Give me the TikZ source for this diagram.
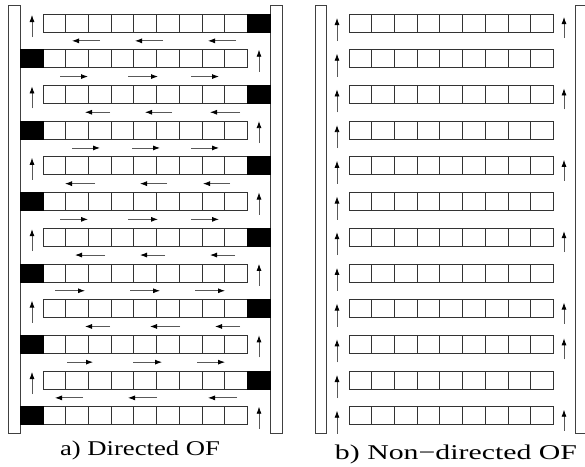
\documentclass[tikz,border=0pt]{standalone}
\usepackage{fontspec}
\setmainfont{Liberation Serif}
\usetikzlibrary{arrows.meta}
\begin{document}
\begin{tikzpicture}[x=1pt,y=-1pt,
  wall/.style={draw=black!75, line width=0.9pt, fill=white},
  cellbox/.style={draw=black!80, line width=0.8pt},
  blockcell/.style={fill=black, draw=black, line width=0.8pt},
  flow/.style={draw=black!65, line width=0.8pt, -{Latex[length=7pt,width=5pt,black]}},
  caption/.style={inner sep=0pt, font=\fontsize{21}{24}\selectfont}]
\useasboundingbox (0,0) rectangle (585,466);
\clip (0,0) rectangle (585,466);

% ---------- a) directed flow ----------
\draw[wall] (8,5) rectangle (20,433);
\draw[wall] (270,5) rectangle (282,433);
\foreach \k in {0,...,11}{
  \pgfmathsetmacro\yt{14+35.7*\k}
  \foreach \c in {0,...,8}
    \draw[cellbox] ({43+22.7*\c},\yt) rectangle ++(22.7,18);
  \ifodd\k
    \draw[blockcell] (20,\yt) rectangle ++(23,18);
    \draw[flow] (259,\yt+22) -- (259,\yt);
  \else
    \draw[blockcell] (247.3,\yt) rectangle ++(22.7,18);
    \draw[flow] (32,\yt+23) -- (32,\yt+1);
  \fi
}
% lane arrows between the rows
\foreach \g/\ax/\ay/\bx/\by/\cx/\cy in {
  1/100/72/163/135/236/208,
  2/60/88/128/158/191/219,
  3/110/85/172/145/240/210,
  4/72/100/132/160/191/219,
  5/95/65/167/140/230/203,
  6/60/88/128/158/191/219,
  7/105/75/165/140/235/210,
  8/55/85/130/160/195/225,
  9/110/85/180/150/240/215,
  10/67/93/133/162/197/225,
  11/83/55/157/128/237/208}{
  \pgfmathsetmacro\yg{14+35.7*(\g-1)+26.85}
  \draw[flow] (\ax,\yg) -- (\ay,\yg);
  \draw[flow] (\bx,\yg) -- (\by,\yg);
  \draw[flow] (\cx,\yg) -- (\cy,\yg);
}
\node[caption] (capa) at (140,450) {\scalebox{1.27}[1]{a) Directed OF}};

% ---------- b) non-directed flow ----------
\draw[wall] (315,5) rectangle (326,433);
\draw[wall] (575,5) rectangle (587,433);
\foreach \k in {0,...,11}{
  \pgfmathsetmacro\yt{14+35.7*\k}
  \foreach \c in {0,...,8}
    \draw[cellbox] ({349+22.7*\c},\yt) rectangle ++(22.7,18);
  \draw[flow] (337,\yt+27) -- (337,\yt+4);
}
\foreach \k in {0,2,4,6,8,9,11}{
  \pgfmathsetmacro\yt{14+35.7*\k}
  \draw[flow] (564,\yt+24) -- (564,\yt+3);
}
\node[caption] (capb) at (456,454) {\scalebox{1.42}[1]{b) Non\textminus directed OF}};
\end{tikzpicture}
\end{document}
